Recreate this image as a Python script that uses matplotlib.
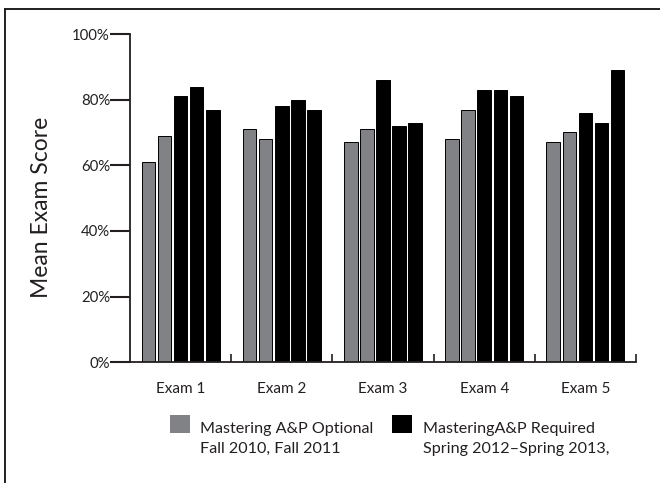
import numpy as np
import matplotlib
matplotlib.use("Agg")
import matplotlib.pyplot as plt
from matplotlib.patches import Rectangle
from matplotlib.lines import Line2D

plt.rcParams['font.family'] = ['Lato', 'DejaVu Sans']

exams = ["Exam 1", "Exam 2", "Exam 3", "Exam 4", "Exam 5"]
# mean exam score (%) per semester
fall_2010 = [61, 71, 67, 68, 67]
fall_2011 = [69, 68, 71, 77, 70]
spring_2012 = [81, 78, 86, 83, 76]
fall_2012 = [84, 80, 72, 83, 73]
spring_2013 = [77, 77, 73, 81, 89]
semesters = [fall_2010, fall_2011, spring_2012, fall_2012, spring_2013]
optional = [True, True, False, False, False]
yticks = [0, 20, 40, 60, 80, 100]
legend_labels = [["Mastering A&P Optional", "Fall 2010, Fall 2011"],
                 ["MasteringA&P Required", "Spring 2012\u2013Spring 2013,"]]

gray = '#808285'
black = '#000000'
ink = '#231f20'

W, H = 660, 483
fig = plt.figure(figsize=(6.6, 4.83), dpi=100)
ax = fig.add_axes([130/W, 1 - 362.3/H, (636-130)/W, (362.3-34)/H])

x = np.arange(len(exams))
pitch = 0.159
width = 0.133
for i, vals in enumerate(semesters):
    col = gray if optional[i] else black
    ax.bar(x + (i - 2) * pitch, vals, width, color=col, edgecolor=black, linewidth=0.7)

ax.set_xlim(-0.5, 4.5)
ax.set_ylim(0, 100)
ax.set_yticks(yticks)
ax.set_yticklabels([f"{t}%" for t in yticks])
ax.set_xticks(x)
ax.set_xticklabels(exams)
ax.set_xticks(np.arange(len(exams)) + 0.5, minor=True)
ax.tick_params(axis='y', length=14.4, width=1.5, pad=0, labelsize=10.7, colors=ink)
ax.tick_params(axis='x', which='major', length=0, pad=14, labelsize=11, colors=ink)
ax.tick_params(axis='x', which='minor', direction='in', length=5.8, width=1.2, color=ink)

for s in ['top', 'right']:
    ax.spines[s].set_visible(False)
for s in ['left', 'bottom']:
    ax.spines[s].set_linewidth(1.3)
    ax.spines[s].set_color(ink)

fig.text(42/W, 1 - 207/H, "Mean Exam Score", rotation=90, ha='center', va='center',
         fontsize=16.5, color=ink)

# legend drawn by hand: square beside first line
sq_x = [170, 392]
txt_x = [200, 422.7]
for k in range(2):
    col = gray if k == 0 else black
    fig.add_artist(Rectangle((sq_x[k]/W, 1 - 433/H), 20/W, 18/H,
                             transform=fig.transFigure, facecolor=col, edgecolor='none'))
    fig.text(txt_x[k]/W, 1 - 433/H, legend_labels[k][0], fontsize=11.6, color=ink, va='baseline')
    fig.text(txt_x[k]/W, 1 - 453/H, legend_labels[k][1], fontsize=11.6, color=ink, va='baseline')

# outer frame (left and top only)
fig.add_artist(Line2D([4.5/W, 4.5/W], [0, 1 - 9/H], transform=fig.transFigure, color=ink, lw=1.4))
fig.add_artist(Line2D([4.5/W, 1], [1 - 9/H, 1 - 9/H], transform=fig.transFigure, color=ink, lw=1.4))

fig.savefig("out.png", dpi=100)
